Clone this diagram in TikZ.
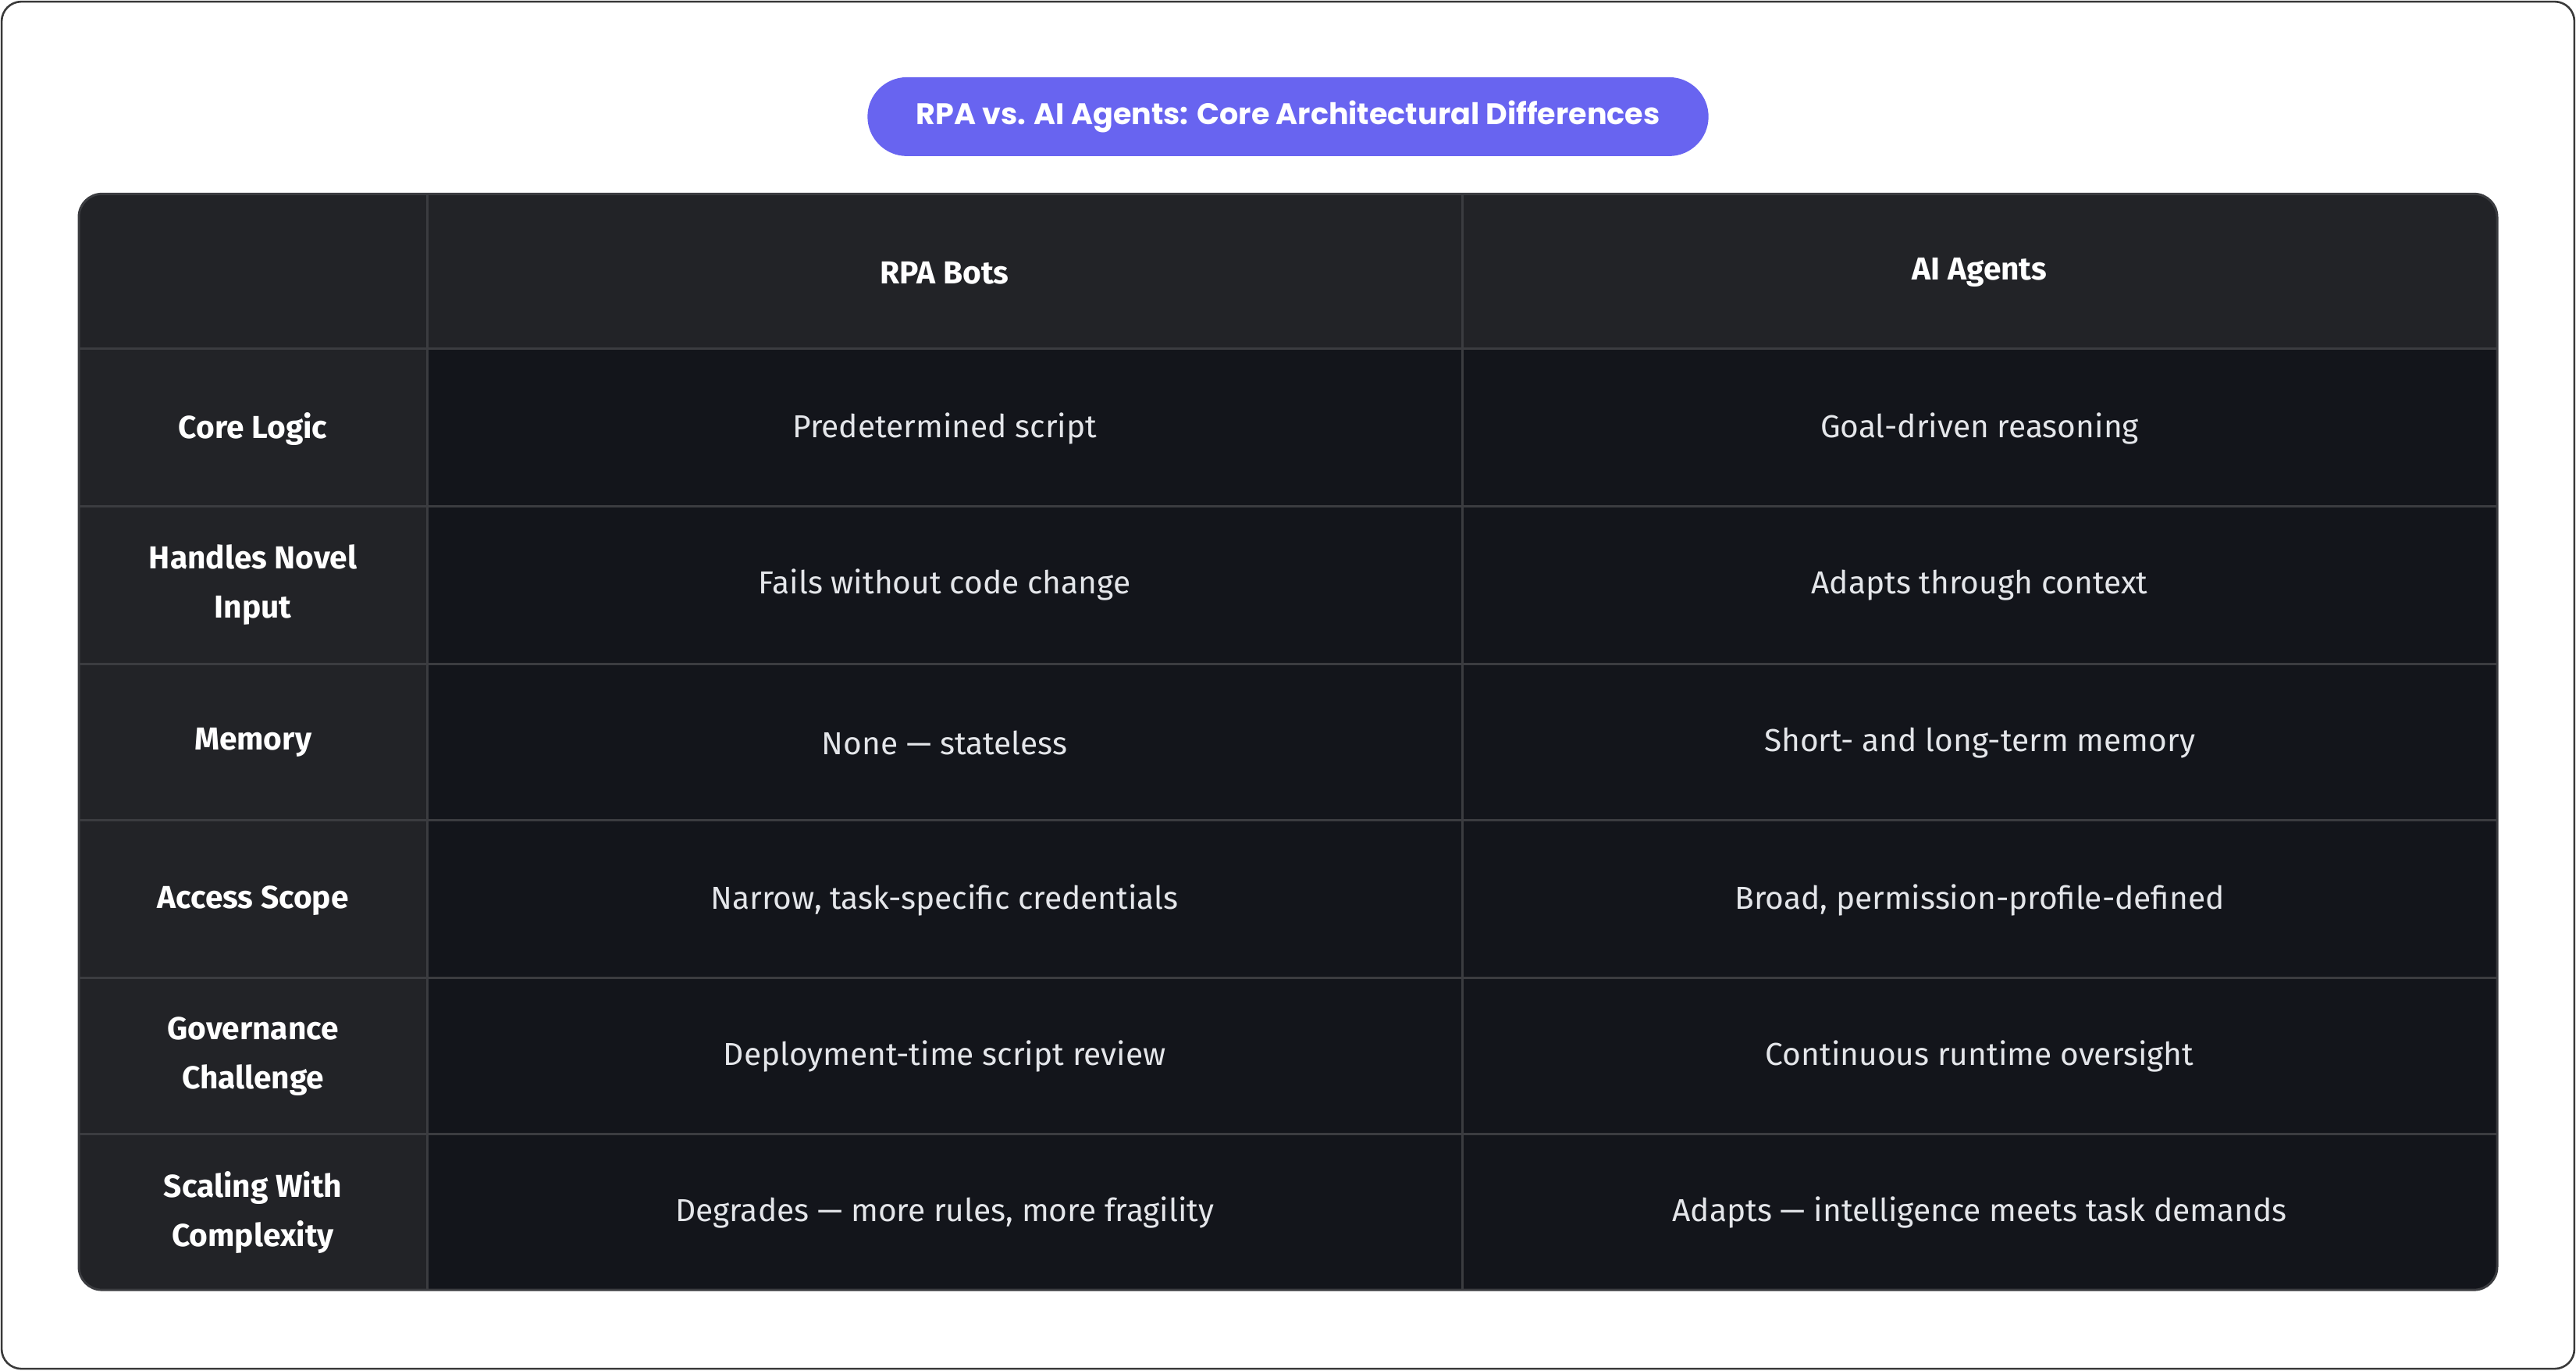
\documentclass[tikz,border=0pt]{standalone}
\usepackage{fontspec}
\setmainfont{Fira Sans}
\newfontfamily\titlefont{Poppins}
\definecolor{pillblue}{HTML}{6864F0}
\definecolor{outline}{HTML}{3A3A3A}
\definecolor{headbg}{HTML}{222327}
\definecolor{cellbg}{HTML}{13151B}
\definecolor{gridgray}{HTML}{3B3C40}
\definecolor{celltext}{HTML}{E4E6EA}
\tikzset{
  head/.style={text=white, font=\fontsize{11}{17}\selectfont\bfseries, align=center},
  cell/.style={text=celltext, font=\fontsize{11}{17}\selectfont, align=center},
}
\begin{document}
\begin{tikzpicture}[x=0.02cm,y=-0.02cm]
\useasboundingbox (0,0) rectangle (1568,834);

\draw[rounded corners=0.24cm, draw=outline, fill=white, line width=0.7pt] (1,1) rectangle (1567,833);

% title pill
\node[fill=pillblue, text=white, rounded corners=0.48cm, minimum width=10.24cm,
  minimum height=0.96cm, font=\titlefont\fontsize{10.3}{14}\selectfont\bfseries] (title) at (784,71)
  {RPA vs. AI Agents: Core Architectural Differences};

% table background
\begin{scope}
\clip[rounded corners=0.28cm] (48,118) rectangle (1520,785);
\fill[cellbg] (48,118) rectangle (1520,785);
\fill[headbg] (48,118) rectangle (1520,212);
\fill[headbg] (48,212) rectangle (260,785);
\foreach \y in {212,308,404,499,595,690}
  \draw[gridgray, line width=0.8pt] (48,\y) -- (1520,\y);
\draw[gridgray, line width=0.8pt] (260,118) -- (260,785);
\draw[gridgray, line width=0.8pt] (890,118) -- (890,785);
\end{scope}
\draw[rounded corners=0.28cm, draw=gridgray, line width=0.8pt] (48,118) rectangle (1520,785);

% header
\node[head] (rpa) at (575,166) {RPA Bots};
\node[head] (agents) at (1205,166) {AI Agents};

% rows
\node[head] (logic) at (154,261) {Core Logic};
\node[cell] at (575,261) {Predetermined script};
\node[cell] at (1205,261) {Goal-driven reasoning};

\node[head] (novel) at (154,356) {Handles Novel\\Input};
\node[cell] at (575,356) {Fails without code change};
\node[cell] at (1205,356) {Adapts through context};

\node[head] (memory) at (154,452) {Memory};
\node[cell] at (575,452) {None — stateless};
\node[cell] at (1205,452) {Short- and long-term memory};

\node[head] (scope) at (154,548) {Access Scope};
\node[cell] at (575,548) {Narrow, task-specific credentials};
\node[cell] at (1205,548) {Broad, permission-profile-defined};

\node[head] (governance) at (154,643) {Governance\\Challenge};
\node[cell] at (575,643) {Deployment-time script review};
\node[cell] at (1205,643) {Continuous runtime oversight};

\node[head] (scaling) at (154,738) {Scaling With\\Complexity};
\node[cell] at (575,738) {Degrades — more rules, more fragility};
\node[cell] at (1205,738) {Adapts — intelligence meets task demands};
\end{tikzpicture}
\end{document}
